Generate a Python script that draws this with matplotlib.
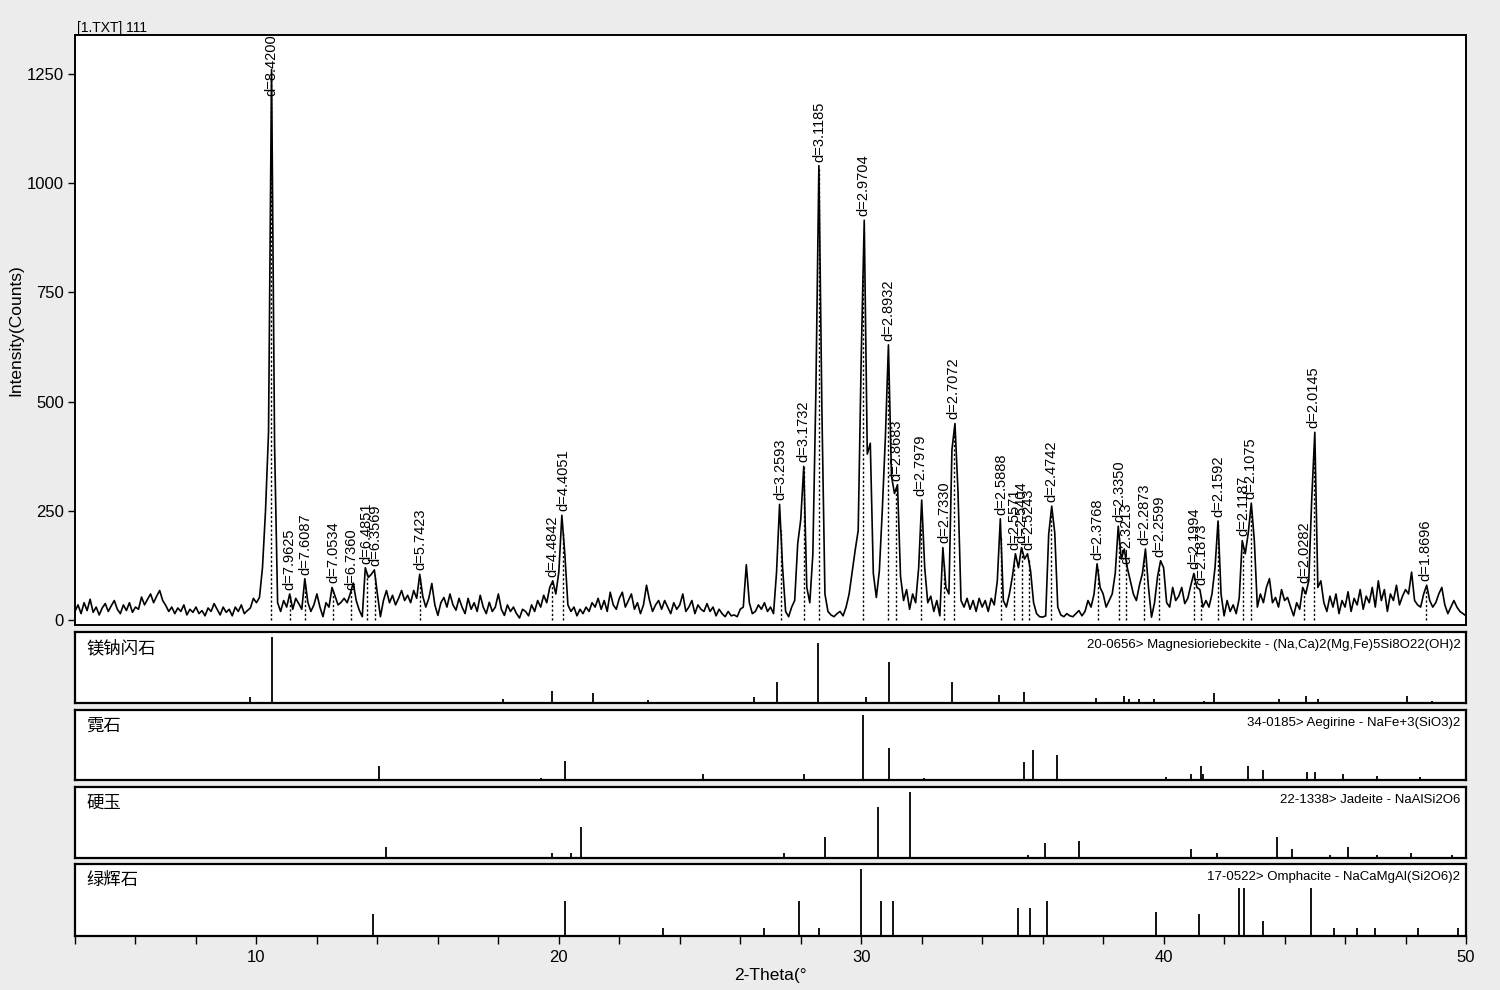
import numpy as np
import matplotlib
matplotlib.use('Agg')
import matplotlib.pyplot as plt
from matplotlib.ticker import FixedLocator, FuncFormatter

plt.rcParams['font.family'] = ['Liberation Sans', 'DejaVu Sans']

# ---------------- data ----------------
TT_START = 4.0
TT_STEP = 0.1
counts = [
    20, 35, 15, 40, 22, 48, 18, 30, 12, 28,        # 4
    38, 20, 33, 45, 25, 15, 35, 22, 40, 18,        # 5
    30, 25, 53, 35, 48, 60, 40, 55, 68, 45,        # 6
    34, 20, 30, 15, 28, 20, 35, 12, 25, 18,        # 7
    30, 15, 22, 10, 28, 20, 38, 25, 12, 30,        # 8
    18, 25, 10, 30, 20, 35, 15, 22, 28, 50,        # 9
    40, 52, 120, 250, 430, 1260, 400, 40, 20, 45,  # 10
    30, 60, 25, 50, 38, 25, 95, 41, 20, 35,        # 11
    60, 30, 8, 40, 30, 75, 55, 35, 41, 50,         # 12
    40, 60, 85, 45, 23, 8, 120, 98, 105, 115,      # 13
    60, 8, 45, 68, 40, 57, 35, 50, 68, 45,         # 14
    57, 40, 68, 50, 105, 55, 30, 50, 84, 35,       # 15
    11, 40, 52, 30, 60, 35, 23, 50, 30, 15,        # 16
    50, 25, 40, 20, 57, 30, 15, 41, 20, 30,        # 17
    60, 25, 11, 35, 20, 30, 15, 5, 25, 20,         # 18
    10, 35, 20, 45, 30, 57, 40, 75, 90, 60,        # 19
    110, 240, 150, 35, 20, 30, 10, 25, 15, 30,     # 20
    20, 40, 30, 50, 25, 45, 20, 64, 35, 25,        # 21
    50, 64, 30, 45, 60, 25, 40, 15, 35, 80,        # 22
    45, 20, 35, 45, 25, 45, 30, 15, 40, 25,        # 23
    35, 60, 20, 30, 45, 15, 35, 25, 20, 38,        # 24
    20, 30, 10, 25, 15, 8, 20, 10, 12, 8,          # 25
    25, 30, 127, 40, 15, 20, 35, 25, 40, 20,       # 26
    30, 15, 110, 265, 120, 20, 8, 30, 45, 175,     # 27
    230, 352, 75, 40, 150, 520, 1040, 480, 60, 20, # 28
    12, 8, 15, 20, 10, 30, 60, 110, 160, 205,      # 29
    600, 915, 380, 405, 107, 52, 113, 256, 420, 630,  # 30
    330, 290, 310, 100, 45, 70, 25, 60, 40, 120,   # 31
    275, 120, 40, 55, 20, 45, 10, 166, 75, 60,     # 32
    390, 450, 295, 45, 30, 50, 25, 45, 20, 50,     # 33
    30, 45, 20, 50, 35, 90, 232, 45, 30, 60,       # 34
    100, 152, 120, 166, 140, 152, 113, 40, 15, 8,  # 35
    7, 10, 197, 261, 200, 30, 12, 8, 15, 10,       # 36
    8, 15, 22, 10, 20, 45, 30, 60, 129, 75,        # 37
    60, 30, 45, 60, 107, 215, 140, 163, 120, 90,   # 38
    60, 45, 80, 107, 163, 75, 7, 40, 100, 136,     # 39
    120, 40, 30, 75, 45, 55, 75, 38, 50, 80,       # 40
    107, 75, 70, 30, 45, 30, 60, 120, 227, 60,     # 41
    10, 45, 20, 35, 15, 50, 182, 152, 200, 268,    # 42
    182, 30, 60, 40, 75, 95, 40, 52, 30, 70,       # 43
    45, 52, 30, 10, 40, 25, 75, 60, 90, 280,       # 44
    430, 75, 90, 40, 20, 55, 30, 60, 15, 45,       # 45
    30, 65, 20, 50, 35, 70, 25, 55, 40, 75,        # 46
    30, 90, 45, 70, 20, 60, 45, 80, 35, 55,        # 47
    70, 60, 110, 45, 35, 30, 60, 80, 45, 30,       # 48
    40, 60, 75, 35, 15, 30, 45, 30, 20, 15,        # 49
    10,                                            # 50
]

WAVELENGTH = 1.5406  # Cu K-alpha, to place d-spacing markers on the 2-theta scale
d_labels = [8.4200, 7.9625, 7.6087, 7.0534, 6.7360, 6.4851, 6.3569, 5.7423,
            4.4842, 4.4051, 3.2593, 3.1732, 3.1185, 2.9704, 2.8932, 2.8683,
            2.7979, 2.7330, 2.7072, 2.5888, 2.5571, 2.5404, 2.5243, 2.4742,
            2.3768, 2.3350, 2.3213, 2.2873, 2.2599, 2.1994, 2.1873, 2.1592,
            2.1187, 2.1075, 2.0282, 2.0145, 1.8696]

phase_names = ['镁钠闪石', '霓石', '硬玉', '绿辉石']
phase_refs = ['20-0656> Magnesioriebeckite - (Na,Ca)2(Mg,Fe)5Si8O22(OH)2',
              '34-0185> Aegirine - NaFe+3(SiO3)2',
              '22-1338> Jadeite - NaAlSi2O6',
              '17-0522> Omphacite - NaCaMgAl(Si2O6)2']

mag_tt = [9.80, 10.50, 18.15, 19.77, 21.12, 22.95, 26.46, 27.22, 28.58, 30.16,
          30.92, 33.00, 34.55, 35.38, 37.78, 38.68, 38.87, 39.18, 39.68, 41.35,
          41.65, 43.82, 44.72, 45.12, 48.05, 48.87]
mag_int = [9, 100, 6, 18, 15, 5, 9, 32, 91, 9, 62, 32, 12, 17, 8, 11, 6, 6, 6, 3,
           15, 6, 11, 6, 11, 3]

aeg_tt = [14.05, 19.41, 20.19, 24.77, 28.12, 30.05, 30.92, 32.09, 35.37, 35.67,
          36.46, 40.08, 40.90, 41.22, 41.31, 42.79, 43.30, 44.73, 45.02, 45.93,
          47.06, 48.49]
aeg_int = [22, 3, 30, 10, 9, 100, 49, 3, 28, 46, 39, 4, 10, 21, 9, 21, 15, 12, 12,
           9, 6, 4]

jad_tt = [14.27, 19.76, 20.41, 20.72, 27.43, 28.79, 30.55, 31.61, 35.50, 36.07,
          37.20, 40.91, 41.78, 43.76, 44.23, 45.49, 46.09, 47.07, 48.19, 49.55]
jad_int = [17, 8, 8, 47, 8, 32, 77, 100, 5, 23, 26, 14, 8, 32, 14, 5, 17, 5, 8, 5]

omp_tt = [13.87, 20.19, 23.43, 26.77, 27.95, 28.60, 30.00, 30.65, 31.04, 35.18,
          35.58, 36.16, 39.75, 41.18, 42.48, 42.66, 43.30, 44.89, 45.62, 46.38,
          46.98, 48.41, 49.73]
omp_int = [33, 52, 12, 12, 52, 12, 100, 52, 52, 42, 42, 52, 36, 33, 72, 72, 22, 72,
           12, 12, 12, 12, 12]

phase_tt = [mag_tt, aeg_tt, jad_tt, omp_tt]
phase_int = [mag_int, aeg_int, jad_int, omp_int]

# ---------------- figure ----------------
BG = '#ececec'
fig = plt.figure(figsize=(15, 9.9), dpi=100, facecolor=BG)

XL = (4, 50)
L, R = 75 / 1500, 1466 / 1500
W = R - L
H = 990.0

def fbox(top_px, bot_px):
    return [L, 1 - bot_px / H, W, (bot_px - top_px) / H]

ax = fig.add_axes(fbox(35, 625))
two_theta = TT_START + TT_STEP * np.arange(len(counts))
y = np.array(counts, dtype=float)
ax.plot(two_theta, y, color='black', lw=1.2, zorder=3)

d_arr = np.array(d_labels)
d_tt = 2 * np.degrees(np.arcsin(WAVELENGTH / (2 * d_arr)))
YTOP = 1339
for d, t in zip(d_labels, d_tt):
    h_line = np.interp(t, two_theta, y)
    near = np.abs(two_theta - t) <= 0.06
    h_peak = y[near].max() if near.any() else h_line
    ax.plot([t, t], [0, h_line], color='black', lw=1.0,
            linestyle=(0, (1.6, 1.6)), zorder=2)
    ylab = min(h_peak, 1190)
    ax.annotate(f'd={d:.4f}', xy=(t, ylab), xytext=(0, 3),
                textcoords='offset points', rotation=90, ha='center',
                va='bottom', fontsize=10.5, color='black', zorder=4)

ax.set_xlim(*XL)
ax.set_ylim(-11, YTOP)
ax.set_yticks([0, 250, 500, 750, 1000, 1250])
ax.tick_params(axis='y', direction='out', length=5, width=1, labelsize=12,
               pad=3)
ax.tick_params(axis='x', bottom=False, labelbottom=False)
for s in ax.spines.values():
    s.set_linewidth(1.4)
ax.set_ylabel('Intensity(Counts)', fontsize=12.5)
ax.yaxis.set_label_coords(-0.037, 0.5)
fig.text(77 / 1500, 1 - 28 / H, '[1.TXT] 111', fontsize=10, va='center',
         ha='left')

panels = [(632, 703), (710, 780), (787, 858), (864, 936)]
axes_p = []
for i, (tp, bp) in enumerate(panels):
    a = fig.add_axes(fbox(tp, bp))
    a.vlines(phase_tt[i], 0, phase_int[i], color='black', lw=1.3)
    a.set_xlim(*XL)
    a.set_ylim(0, 108)
    a.set_yticks([])
    for s in a.spines.values():
        s.set_linewidth(1.6)
    a.text(0.008, 0.9, phase_names[i], transform=a.transAxes, fontsize=12.5,
           va='top', ha='left', family=['Noto Sans CJK SC', 'DejaVu Sans'])
    a.text(0.996, 0.9, phase_refs[i], transform=a.transAxes, fontsize=9.5,
           va='top', ha='right',
           family=['Liberation Sans Narrow', 'Liberation Sans', 'DejaVu Sans'])
    if i < 3:
        a.tick_params(axis='x', bottom=False, labelbottom=False)
    axes_p.append(a)

ab = axes_p[-1]
ab.xaxis.set_major_locator(FixedLocator(np.arange(4, 51, 2)))
ab.xaxis.set_major_formatter(
    FuncFormatter(lambda v, p: f'{int(round(v))}' if round(v) % 10 == 0 else ''))
ab.tick_params(axis='x', direction='out', length=6, width=1, labelsize=12,
               pad=4)
ab.set_xlabel('2-Theta(°', fontsize=12.5, labelpad=2)

fig.savefig('out.png', dpi=100, facecolor=BG)
